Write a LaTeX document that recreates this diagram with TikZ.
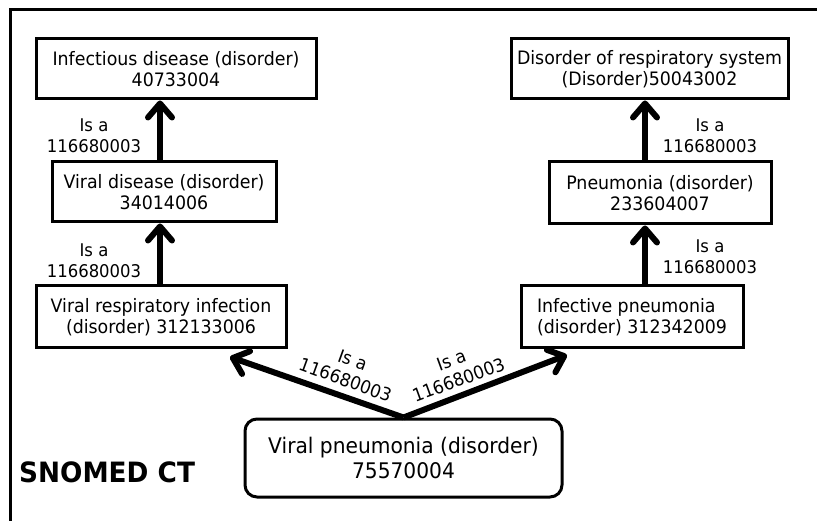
\documentclass[tikz,border=0pt]{standalone}
\usepackage{fontspec}
\setmainfont{DejaVu Sans}[FakeStretch=0.94]
\usetikzlibrary{arrows.meta,calc}
\begin{document}
\begin{tikzpicture}[x=1pt,y=-1pt,
  box/.style={draw,line width=3pt,inner sep=0pt,align=center,font=\fontsize{18.5}{21}\selectfont},
  arr/.style={line width=6pt,-{Straight Barb[length=14pt,width=24pt,round]}},
  lab/.style={align=center,inner sep=0pt,font=\fontsize{17.5}{21}\selectfont},
  dlab/.style={align=center,inner sep=0pt,font=\fontsize{18}{21}\selectfont}]
\useasboundingbox (0,0) rectangle (817,521);
\draw[line width=3pt] (10,521) -- (10,10) -- (817,10);
% boxes
\node[box,minimum width=280pt,minimum height=60pt] (inf) at (176,69) {Infectious disease (disorder)\\40733004};
\node[box,minimum width=224pt,minimum height=60pt] (vd) at (164,192) {Viral disease (disorder)\\34014006};
\node[box,minimum width=250pt,minimum height=62pt] (vri) at (161,317) {Viral respiratory infection\\(disorder) 312133006};
\node[box,minimum width=277pt,minimum height=60pt] (dor) at (649.5,69) {Disorder of respiratory system\\(Disorder)50043002};
\node[box,minimum width=222pt,minimum height=62pt] (pn) at (660,193) {Pneumonia (disorder)\\233604007};
\node[box,minimum width=222pt,minimum height=62pt,align=left] (ip) at (632,317) {Infective pneumonia\\(disorder) 312342009};
\node[box,minimum width=317pt,minimum height=78pt,rounded corners=12pt,font=\fontsize{21.5}{25}\selectfont] (vp) at (403.5,458) {Viral pneumonia (disorder)\\75570004};
% arrows
\draw[arr] (vd.north -| 160,0) -- (inf.south -| 160,0);
\draw[arr] (vri.north -| 160,0) -- (vd.south -| 160,0);
\draw[arr] (pn.north -| 645,0) -- (dor.south -| 645,0);
\draw[arr] (ip.north -| 645,0) -- (pn.south -| 645,0);
\coordinate (lt) at (230,357);
\coordinate (rt) at (567,355);
\draw[arr] (vp.north) -- (lt);
\draw[arr] (vp.north) -- (rt);
% labels
\node[lab] (l1) at (94,136) {Is a\\116680003};
\node[lab] (l2) at (94,261) {Is a\\116680003};
\node[lab] (r1) at (710,136) {Is a\\116680003};
\node[lab] (r2) at (710,257) {Is a\\116680003};
\node[dlab,rotate=-20] (dl) at (349,370) {Is a\\116680003};
\node[dlab,rotate=20] (dr) at (455,370) {Is a\\116680003};
\node[anchor=base west,inner sep=0pt,font=\fontsize{28}{32}\selectfont\bfseries] (sct) at (19,482) {SNOMED CT};
\end{tikzpicture}
\end{document}
